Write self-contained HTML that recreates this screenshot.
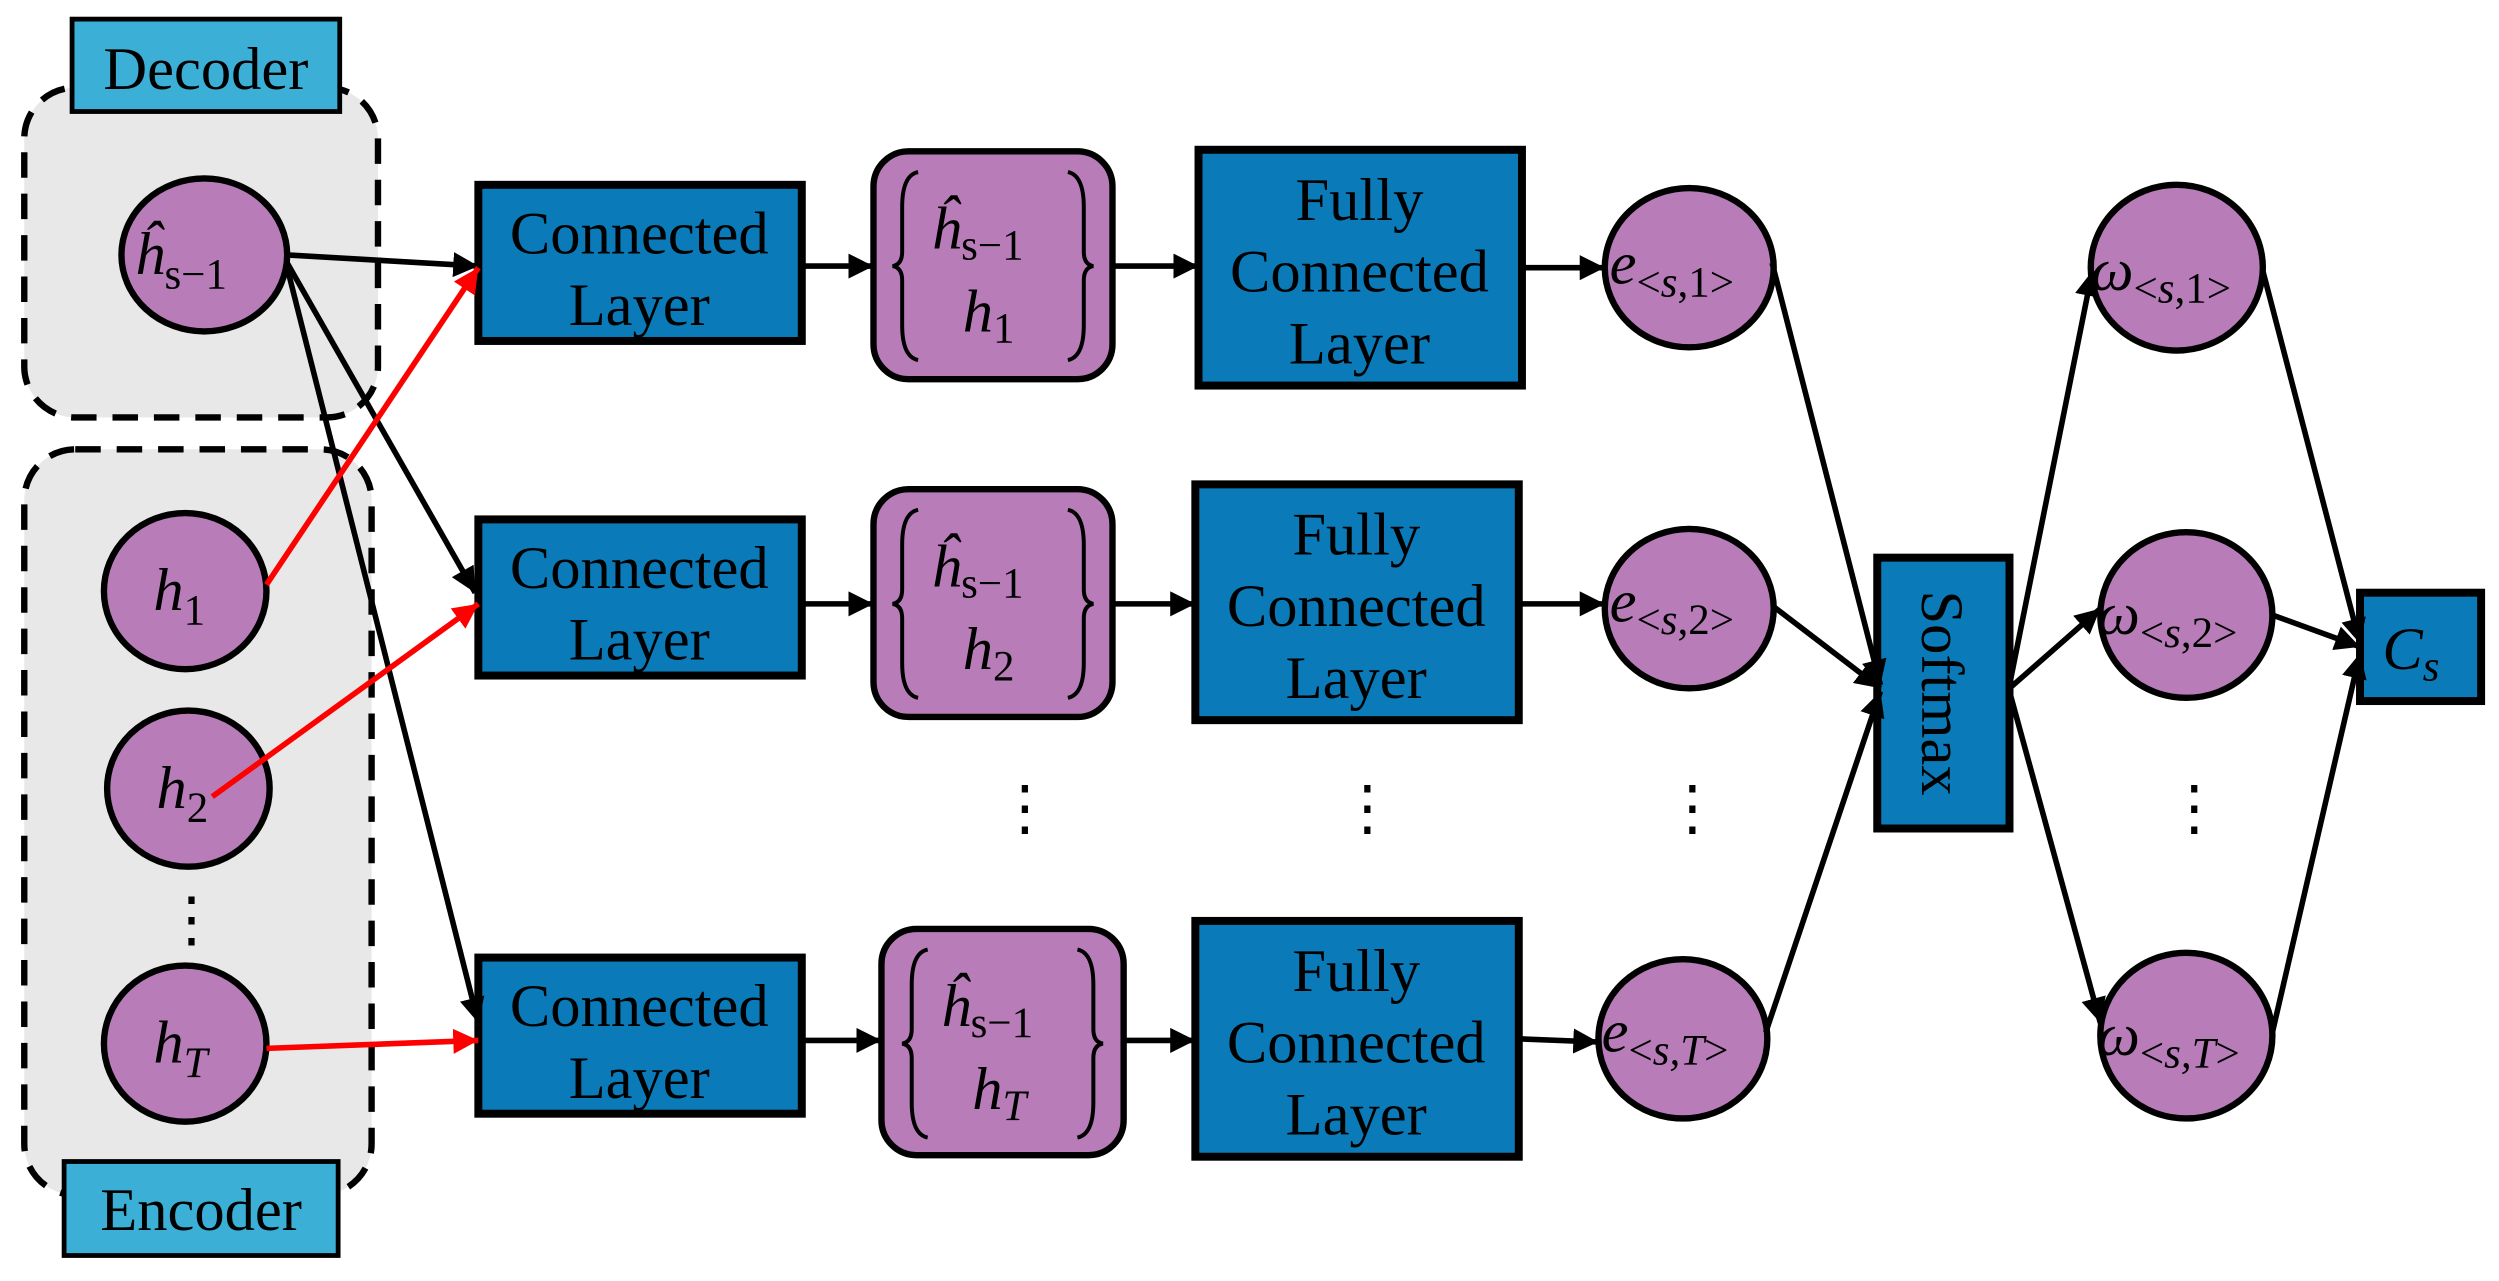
<!DOCTYPE html>
<html><head><meta charset="utf-8"><style>
html,body{margin:0;padding:0;background:#fff;}
svg{display:block;}
.box{font-family:"Liberation Serif",serif;font-size:38px;fill:#000;}
.m{font-family:"Liberation Serif",serif;font-style:italic;font-size:38px;fill:#000;}
.s{font-size:27px;}
</style></head><body>
<svg width="2499" height="1281" viewBox="0 0 1568 804" xmlns="http://www.w3.org/2000/svg">
<defs>
<marker id="a" viewBox="0 0 10 10" refX="10" refY="5" markerWidth="4.5" markerHeight="4.5" orient="auto" markerUnits="strokeWidth"><path d="M0,0L10,5L0,10z" fill="#000"/></marker>
<marker id="r" viewBox="0 0 10 10" refX="10" refY="5" markerWidth="4.5" markerHeight="4.5" orient="auto" markerUnits="strokeWidth"><path d="M0,0L10,5L0,10z" fill="#f00"/></marker>
</defs>
<rect width="1568" height="804" fill="#fff"/>
<rect x="15" y="55" width="222" height="207" rx="32" fill="#e8e8e8" stroke="#000" stroke-width="4" stroke-dasharray="16,10"/>
<rect x="15" y="282" width="218" height="468" rx="32" fill="#e8e8e8" stroke="#000" stroke-width="4" stroke-dasharray="16,10"/>
<rect x="45" y="12" width="168" height="58" fill="#3cafd6" stroke="#000" stroke-width="3"/>
<text x="129" y="56" text-anchor="middle" class="box">Decoder</text>
<rect x="40" y="729" width="172" height="59" fill="#3cafd6" stroke="#000" stroke-width="3"/>
<text x="126" y="772" text-anchor="middle" class="box">Encoder</text>

<g fill="#b87db9" stroke="#000" stroke-width="4">
<ellipse cx="128" cy="160" rx="52" ry="48"/>
<ellipse cx="116" cy="371" rx="51" ry="49"/>
<ellipse cx="118" cy="495" rx="51" ry="49"/>
<ellipse cx="116" cy="655" rx="51" ry="49"/>
<ellipse cx="1060" cy="168" rx="53" ry="50"/>
<ellipse cx="1060" cy="382" rx="53" ry="50"/>
<ellipse cx="1056" cy="652" rx="53" ry="50"/>
<ellipse cx="1366" cy="168" rx="54" ry="52"/>
<ellipse cx="1372" cy="386" rx="54" ry="52"/>
<ellipse cx="1372" cy="650" rx="54" ry="52"/>
</g>
<text x="84" y="172" class="m">ĥ<tspan class="s" dy="9" font-style="normal">s−1</tspan></text>
<text x="96" y="383" class="m">h<tspan class="s" dy="9" font-style="normal">1</tspan></text>
<text x="98" y="507" class="m">h<tspan class="s" dy="9" font-style="normal">2</tspan></text>
<text x="96" y="667" class="m">h<tspan class="s" dy="9">T</tspan></text>
<text x="120" y="590" text-anchor="middle" class="box" font-size="24">⋮</text>

<g fill="#0a7bb8" stroke="#000" stroke-width="5">
<rect x="300" y="116" width="203" height="98"/>
<rect x="300" y="326" width="203" height="98"/>
<rect x="300" y="601" width="203" height="98"/>
<rect x="752" y="94" width="203" height="148"/>
<rect x="750" y="304" width="203" height="148"/>
<rect x="750" y="578" width="203" height="148"/>
<rect x="1178" y="350" width="83" height="170"/>
<rect x="1481" y="372" width="76" height="68"/>
</g>
<g class="box" text-anchor="middle">
<text x="401" y="159">Connected</text><text x="401" y="204">Layer</text>
<text x="401" y="369">Connected</text><text x="401" y="414">Layer</text>
<text x="401" y="644">Connected</text><text x="401" y="689">Layer</text>
<text x="853" y="138">Fully</text><text x="853" y="183">Connected</text><text x="853" y="228">Layer</text>
<text x="851" y="348">Fully</text><text x="851" y="393">Connected</text><text x="851" y="438">Layer</text>
<text x="851" y="622">Fully</text><text x="851" y="667">Connected</text><text x="851" y="712">Layer</text>
</g>
<text class="box" transform="translate(1206,435) rotate(90)" text-anchor="middle">Softmax</text>
<text x="1495" y="420" class="m">C<tspan class="s" dy="7">s</tspan></text>

<g fill="#b87db9" stroke="#000" stroke-width="4">
<rect x="548" y="95" width="150" height="143" rx="22"/>
<rect x="548" y="307" width="150" height="143" rx="22"/>
<rect x="553" y="583" width="152" height="142" rx="22"/>
</g>
<g fill="none" stroke="#000" stroke-width="2.5">
<path d="M576,108 Q566,110 566,130 L566,158 Q566,166 560,167 Q566,168 566,176 L566,204 Q566,224 576,226"/>
<path d="M670,108 Q680,110 680,130 L680,158 Q680,166 686,167 Q680,168 680,176 L680,204 Q680,224 670,226"/>
<path d="M576,320 Q566,322 566,342 L566,370 Q566,378 560,379 Q566,380 566,388 L566,416 Q566,436 576,438"/>
<path d="M670,320 Q680,322 680,342 L680,370 Q680,378 686,379 Q680,380 680,388 L680,416 Q680,436 670,438"/>
<path d="M582,596 Q572,598 572,618 L572,646 Q572,654 566,655 Q572,656 572,664 L572,692 Q572,712 582,714"/>
<path d="M676,596 Q686,598 686,618 L686,646 Q686,654 692,655 Q686,656 686,664 L686,692 Q686,712 676,714"/>
</g>
<text x="584" y="156" class="m">ĥ<tspan class="s" dy="7" font-style="normal">s−1</tspan></text>
<text x="604" y="208" class="m">h<tspan class="s" dy="7" font-style="normal">1</tspan></text>
<text x="584" y="368" class="m">ĥ<tspan class="s" dy="7" font-style="normal">s−1</tspan></text>
<text x="604" y="420" class="m">h<tspan class="s" dy="7" font-style="normal">2</tspan></text>
<text x="590" y="644" class="m">ĥ<tspan class="s" dy="7" font-style="normal">s−1</tspan></text>
<text x="610" y="696" class="m">h<tspan class="s" dy="7">T</tspan></text>

<text x="1010" y="178" class="m">e<tspan class="s" dy="8" font-style="normal">&lt;</tspan><tspan class="s">s</tspan><tspan class="s" font-style="normal">,1&gt;</tspan></text>
<text x="1010" y="390" class="m">e<tspan class="s" dy="8" font-style="normal">&lt;</tspan><tspan class="s">s</tspan><tspan class="s" font-style="normal">,2&gt;</tspan></text>
<text x="1005" y="660" class="m">e<tspan class="s" dy="8" font-style="normal">&lt;</tspan><tspan class="s">s,T</tspan><tspan class="s" font-style="normal">&gt;</tspan></text>
<text x="1312" y="182" class="m">ω<tspan class="s" dy="8" font-style="normal">&lt;</tspan><tspan class="s">s</tspan><tspan class="s" font-style="normal">,1&gt;</tspan></text>
<text x="1316" y="398" class="m">ω<tspan class="s" dy="8" font-style="normal">&lt;</tspan><tspan class="s">s</tspan><tspan class="s" font-style="normal">,2&gt;</tspan></text>
<text x="1316" y="662" class="m">ω<tspan class="s" dy="8" font-style="normal">&lt;</tspan><tspan class="s">s,T</tspan><tspan class="s" font-style="normal">&gt;</tspan></text>

<g class="box" font-size="24" text-anchor="middle">
<text x="643" y="520">⋮</text><text x="858" y="520">⋮</text><text x="1062" y="520">⋮</text><text x="1377" y="520">⋮</text>
</g>

<g stroke="#000" stroke-width="3.5" fill="none" marker-end="url(#a)">
<line x1="180" y1="160" x2="300" y2="167"/>
<line x1="180" y1="165" x2="298" y2="372"/>
<line x1="180" y1="168" x2="300" y2="642"/>
<line x1="503" y1="167" x2="548" y2="167"/>
<line x1="698" y1="167" x2="752" y2="167"/>
<line x1="955" y1="168" x2="1007" y2="168"/>
<line x1="503" y1="379" x2="548" y2="379"/>
<line x1="698" y1="379" x2="750" y2="379"/>
<line x1="953" y1="379" x2="1007" y2="379"/>
<line x1="503" y1="653" x2="553" y2="653"/>
<line x1="705" y1="653" x2="750" y2="653"/>
<line x1="953" y1="652" x2="1003" y2="654"/>
<line x1="1112" y1="165" x2="1180" y2="430"/>
<line x1="1112" y1="380" x2="1180" y2="432"/>
<line x1="1108" y1="648" x2="1180" y2="434"/>
<line x1="1261" y1="430" x2="1313" y2="170"/>
<line x1="1261" y1="432" x2="1318" y2="382"/>
<line x1="1261" y1="434" x2="1318" y2="642"/>
<line x1="1420" y1="170" x2="1481" y2="404"/>
<line x1="1426" y1="386" x2="1481" y2="406"/>
<line x1="1426" y1="648" x2="1481" y2="410"/>
</g>
<g stroke="#f00" stroke-width="3.5" fill="none" marker-end="url(#r)">
<line x1="167" y1="367" x2="300" y2="168"/>
<line x1="133" y1="500" x2="300" y2="379"/>
<line x1="167" y1="658" x2="300" y2="653"/>
</g>
</svg>
</body></html>
